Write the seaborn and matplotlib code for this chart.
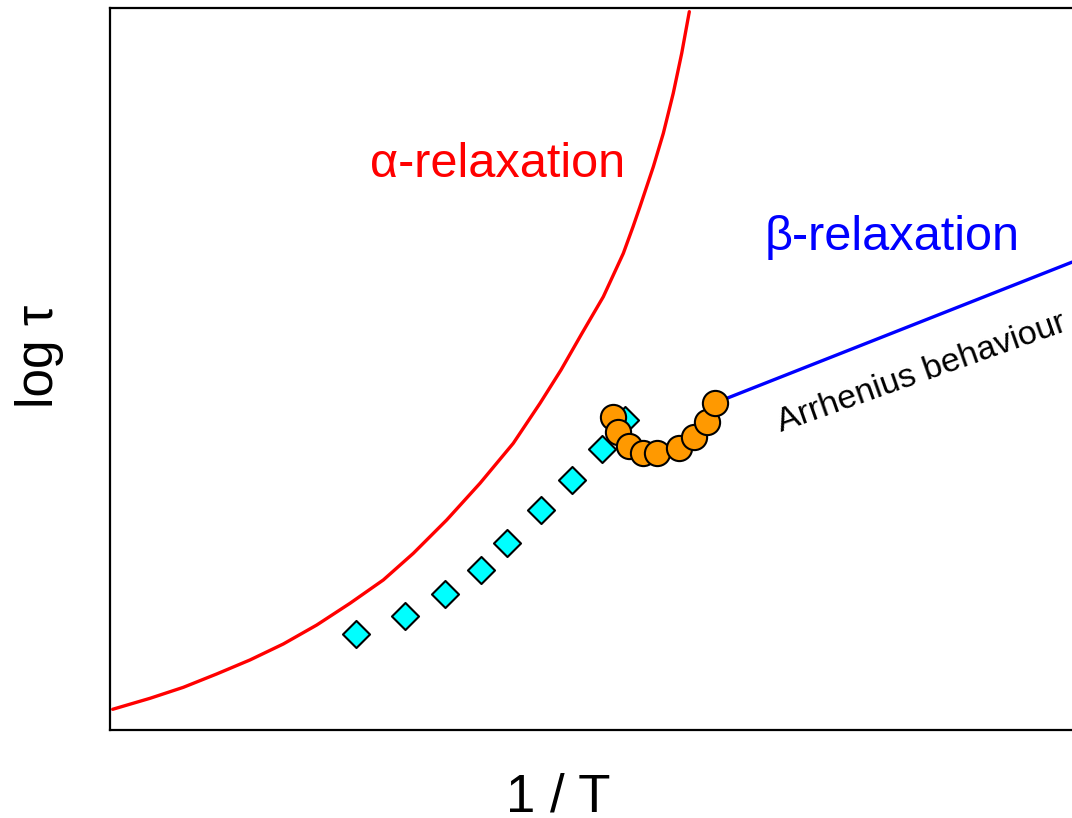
import matplotlib
matplotlib.use("Agg")
import matplotlib.pyplot as plt
import seaborn as sns
import pandas as pd

# Relaxation map: log(tau) versus inverse temperature (arbitrary units, 0-100)
alpha_x = [0.28, 4.16, 7.62, 11.09, 14.55, 18.01, 21.49, 24.95, 28.41, 31.53,
           35.00, 38.46, 41.92, 44.70, 46.88, 49.06, 51.28, 53.36, 54.37, 55.09,
           56.48, 57.52, 58.55, 59.43, 60.22]
alpha_y = [2.87, 4.39, 5.91, 7.76, 9.70, 11.91, 14.54, 17.55, 20.78, 24.47,
           29.09, 34.17, 39.71, 45.25, 49.86, 54.94, 60.01, 66.02, 69.71, 72.48,
           78.02, 82.65, 88.19, 93.73, 99.49]

beta_x = [62.9, 100.0]
beta_y = [45.3, 64.8]

diamond_x = [25.6, 30.7, 34.8, 38.6, 41.3, 44.8, 48.0, 51.1, 53.5]
diamond_y = [13.3, 15.8, 18.9, 22.2, 25.9, 30.5, 34.6, 38.9, 42.9]

circle_x = [52.3, 52.8, 53.9, 55.4, 56.9, 59.1, 60.7, 62.1, 62.9]
circle_y = [43.4, 41.3, 39.3, 38.3, 38.3, 39.0, 40.6, 42.6, 45.3]

sns.set_style("white")
plt.rcParams["font.family"] = ["Liberation Sans", "DejaVu Sans"]
plt.rcParams["lines.solid_joinstyle"] = "round"

fig = plt.figure(figsize=(10.72, 8.18), dpi=100)
ax = fig.add_axes([110 / 1072, 88 / 818, 962 / 1072, 722 / 818])

alpha_df = pd.DataFrame({"x": alpha_x, "y": alpha_y})
beta_df = pd.DataFrame({"x": beta_x, "y": beta_y})
dia_df = pd.DataFrame({"x": diamond_x, "y": diamond_y})
circ_df = pd.DataFrame({"x": circle_x, "y": circle_y})

sns.lineplot(data=alpha_df, x="x", y="y", sort=False, estimator=None,
             color="#ff0000", linewidth=2.4, ax=ax, zorder=2)
sns.lineplot(data=beta_df, x="x", y="y", sort=False, estimator=None,
             color="#0000ff", linewidth=2.4, ax=ax, zorder=2)
sns.scatterplot(data=dia_df, x="x", y="y", marker="D", s=190,
                color="#00ffff", edgecolor="black", linewidth=1.5, ax=ax, zorder=3)
sns.scatterplot(data=circ_df, x="x", y="y", marker="o", s=330,
                color="#ff9900", edgecolor="black", linewidth=1.5, ax=ax, zorder=4)

ax.set_xlim(0, 100)
ax.set_ylim(0, 100)
ax.set_xticks([])
ax.set_yticks([])

for side in ["left", "bottom", "top"]:
    ax.spines[side].set_color("black")
    ax.spines[side].set_linewidth(1.6)
ax.spines["right"].set_visible(False)

ax.set_xlabel("1 / T", fontsize=38, va="baseline", color="black")
ax.xaxis.set_label_coords(0.466, -0.113)
ax.set_ylabel("log τ", fontsize=37, va="baseline", color="black")
ax.yaxis.set_label_coords(-0.059, 0.518)

ax.text(40.3, 76.6, "α-relaxation", color="#ff0000", fontsize=35,
        ha="center", va="baseline")
ax.text(81.3, 66.5, "β-relaxation", color="#0000ff", fontsize=35,
        ha="center", va="baseline")
ax.text(84.4, 49.4, "Arrhenius behaviour", color="black", fontsize=24.5,
        ha="center", va="center", rotation=19.5, rotation_mode="anchor")

fig.savefig("out.png", dpi=100)
